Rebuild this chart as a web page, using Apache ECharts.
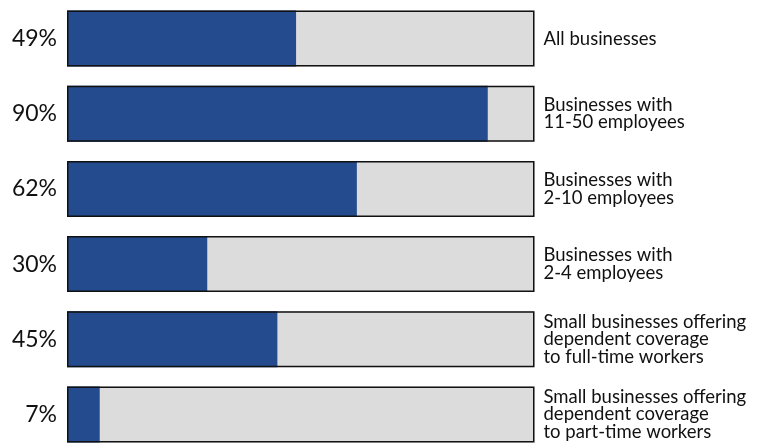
<!DOCTYPE html>
<html>
<head>
<meta charset="utf-8">
<script src="https://cdn.jsdelivr.net/npm/echarts@6/dist/echarts.min.js"></script>
<style>
html,body{margin:0;padding:0;background:#fff;}
#chart{width:770px;height:443px;}
</style>
</head>
<body>
<div id="chart"></div>
<script>
const categories = [
  "All businesses",
  "Businesses with\n11-50 employees",
  "Businesses with\n2-10 employees",
  "Businesses with\n2-4 employees",
  "Small businesses offering\ndependent coverage\nto full-time workers",
  "Small businesses offering\ndependent coverage\nto part-time workers"
];
const values = [49, 90, 62, 30, 45, 7];
const percentLabels = values.map(v => v + "%");
const fullScale = categories.map(() => 100);

const FONT = "Lato, 'Open Sans', sans-serif";
const chart = echarts.init(document.getElementById('chart'));
chart.setOption({
  animation: false,
  backgroundColor: '#ffffff',
  grid: { left: 67, right: 235.5, top: 1, height: 451, outerBoundsMode: 'none', containLabel: false },
  xAxis: { type: 'value', min: 0, max: 100, show: false },
  yAxis: [
    {
      type: 'category', data: percentLabels, inverse: true, position: 'left',
      axisLine: { show: false }, axisTick: { show: false },
      axisLabel: { margin: 10, color: '#111', fontFamily: FONT, fontSize: 23, padding: [6, 0, 0, 0] }
    },
    {
      type: 'category', data: categories, inverse: true, position: 'right',
      axisLine: { show: false }, axisTick: { show: false },
      axisLabel: { margin: 9, color: '#111', fontFamily: FONT, fontSize: 18.5, lineHeight: 17.5, align: 'left', padding: [4, 0, 0, 0] }
    }
  ],
  series: [
    {
      type: 'bar', data: fullScale, barWidth: 56, barGap: '-100%', silent: true,
      itemStyle: { color: '#dcdcdc' }, z: 1
    },
    {
      type: 'bar', data: values, barWidth: 56, barGap: '-100%', silent: true,
      itemStyle: { color: '#234b8e' }, z: 2
    },
    {
      type: 'bar', data: fullScale, barWidth: 56, barGap: '-100%', silent: true,
      itemStyle: { color: 'rgba(0,0,0,0)', borderColor: '#111', borderWidth: 1.5 }, z: 3
    }
  ]
});
</script>
</body>
</html>
